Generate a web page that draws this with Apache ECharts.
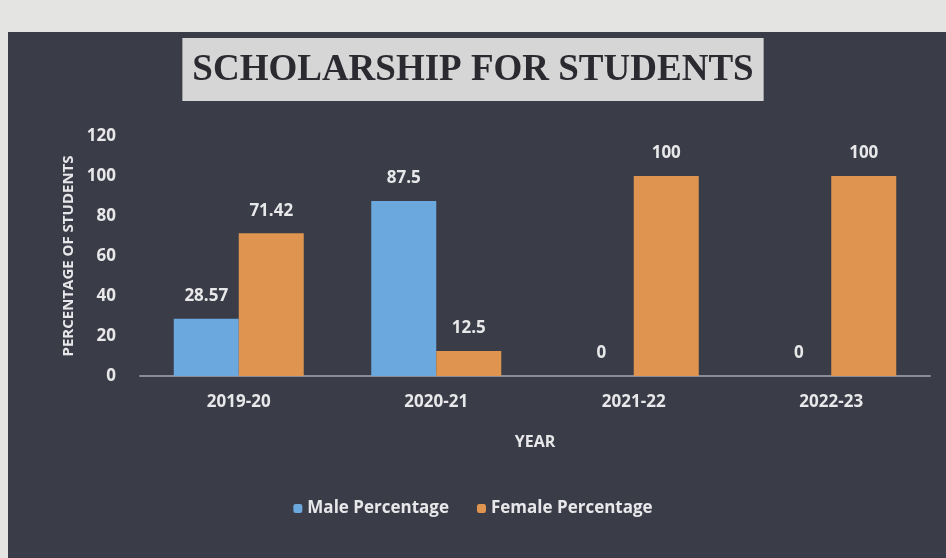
<!DOCTYPE html>
<html>
<head>
<meta charset="utf-8">
<script src="https://cdn.jsdelivr.net/npm/echarts@6/dist/echarts.min.js"></script>
<style>
  html, body { margin: 0; padding: 0; background: #e4e4e2; }
  #chart { width: 946px; height: 558px; }
</style>
</head>
<body>
<div id="chart"></div>
<script>
const years = ['2019-20', '2020-21', '2021-22', '2022-23'];
const malePct = [28.57, 87.5, 0, 0];
const femalePct = [71.42, 12.5, 100, 100];

const font = "'Liberation Sans Narrow', 'Open Sans', sans-serif";
const txt = '#e8e8ea';

const chart = echarts.init(document.getElementById('chart'));
chart.setOption({
  backgroundColor: '#e4e4e2',
  graphic: [
    { type: 'rect', z: -10, shape: { x: 8, y: 32, width: 938, height: 526 }, style: { fill: '#3a3c48' } }
  ],
  title: {
    text: 'SCHOLARSHIP FOR STUDENTS',
    left: 'center',
    top: 38,
    backgroundColor: '#d6d6d6',
    padding: [14, 10, 12, 10],
    textStyle: { fontFamily: "'Liberation Serif', serif", fontWeight: 'bold', fontSize: 37, color: '#2a2a30' }
  },
  legend: {
    bottom: 36,
    left: 'center',
    itemWidth: 9,
    itemHeight: 9,
    itemGap: 28,
    textStyle: { color: txt, fontFamily: font, fontSize: 17, fontWeight: 'bold' },
    data: ['Male Percentage', 'Female Percentage']
  },
  grid: { left: 140, right: 16, top: 136, bottom: 182 },
  xAxis: {
    type: 'category',
    data: years,
    name: 'YEAR',
    nameLocation: 'middle',
    nameGap: 58,
    nameTextStyle: { color: txt, fontFamily: font, fontSize: 16, fontWeight: 'bold' },
    axisLine: { lineStyle: { color: '#8a8c96', width: 2 } },
    axisTick: { show: false },
    axisLabel: { color: txt, fontFamily: font, fontSize: 17, fontWeight: 'bold', margin: 18 }
  },
  yAxis: {
    type: 'value',
    min: 0,
    max: 120,
    interval: 20,
    name: 'PERCENTAGE OF STUDENTS',
    nameLocation: 'middle',
    nameGap: 60,
    nameTextStyle: { color: txt, fontFamily: font, fontSize: 15, fontWeight: 'bold' },
    axisLine: { show: false },
    axisTick: { show: false },
    splitLine: { show: false },
    axisLabel: { color: txt, fontFamily: font, fontSize: 17, fontWeight: 'bold', margin: 24 }
  },
  series: [
    {
      name: 'Male Percentage',
      type: 'bar',
      data: malePct,
      barWidth: 65,
      barGap: '0%',
      itemStyle: { color: '#6aa8de' },
      label: { show: true, position: 'top', distance: 14, color: txt, fontFamily: font, fontSize: 17, fontWeight: 'bold' }
    },
    {
      name: 'Female Percentage',
      type: 'bar',
      data: femalePct,
      barWidth: 65,
      itemStyle: { color: '#df954f' },
      label: { show: true, position: 'top', distance: 14, color: txt, fontFamily: font, fontSize: 17, fontWeight: 'bold' }
    }
  ]
});
</script>
</body>
</html>
